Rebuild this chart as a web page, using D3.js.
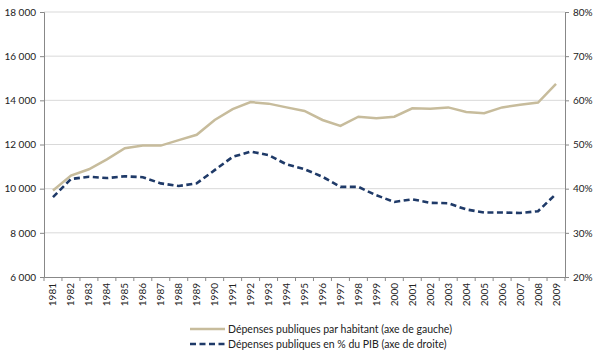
<!DOCTYPE html>
<html><head><meta charset="utf-8">
<script src="https://cdn.jsdelivr.net/npm/d3@7"></script>
<style>
body{margin:0;background:#fff;}
text{font-family:"Lato","Liberation Sans",sans-serif;fill:#222;}
</style></head>
<body><svg id="c" width="602" height="356"></svg>
<script>
const years = ["1981","1982","1983","1984","1985","1986","1987","1988","1989","1990","1991","1992","1993","1994","1995","1996","1997","1998","1999","2000","2001","2002","2003","2004","2005","2006","2007","2008","2009"];
const perCapita = [9920,10590,10880,11330,11830,11950,11950,12200,12440,13110,13600,13920,13850,13680,13520,13110,12840,13260,13190,13260,13640,13620,13680,13470,13420,13680,13800,13900,14740];
const pctGDP = [38.1,42.2,42.7,42.4,42.8,42.6,41.2,40.6,41.2,44.2,47.2,48.4,47.6,45.5,44.4,42.7,40.4,40.4,38.5,37.0,37.6,36.8,36.7,35.3,34.6,34.6,34.5,34.9,38.8];
const leftTicks = [6000,8000,10000,12000,14000,16000,18000];
const rightTicks = [20,30,40,50,60,70,80];
const legendLabels = ["Dépenses publiques par habitant (axe de gauche)","Dépenses publiques en % du PIB (axe de droite)"];

const svg = d3.select("#c");
const L = 44, R = 565, T = 12, B = 277;
const x = d3.scaleBand().domain(years).range([L, R]);
const yL = d3.scaleLinear().domain([6000,18000]).range([B, T]);
const yR = d3.scaleLinear().domain([20,80]).range([B, T]);
const fmt = v => d3.format(",")(v).replace(/,/g, " ");

// gridlines
svg.append("g").selectAll("line").data(leftTicks.slice(1)).join("line")
  .attr("x1", L).attr("x2", R).attr("y1", d => yL(d)).attr("y2", d => yL(d))
  .attr("stroke", "#d9d9d9").attr("stroke-width", 1);

// left axis
const gl = svg.append("g").attr("transform", `translate(${L},0)`)
  .call(d3.axisLeft(yL).tickValues(leftTicks).tickFormat(fmt).tickSize(4).tickPadding(4));
// right axis
const gr = svg.append("g").attr("transform", `translate(${R},0)`)
  .call(d3.axisRight(yR).tickValues(rightTicks).tickFormat(d => d + "%").tickSize(4).tickPadding(4));
// bottom axis
const gb = svg.append("g").attr("transform", `translate(0,${B})`)
  .call(d3.axisBottom(x).tickSize(0).tickPadding(6));
gb.selectAll(".tick text").attr("transform", "rotate(-90)").attr("text-anchor", "end")
  .attr("x", -6).attr("y", 0).attr("dy", "0.35em");
// tick marks at band boundaries
const bounds = years.map(y => x(y)).concat([R]);
svg.append("g").selectAll("line").data(bounds).join("line")
  .attr("x1", d => d).attr("x2", d => d).attr("y1", B).attr("y2", B + 4)
  .attr("stroke", "#888");

[gl, gr, gb].forEach(g => {
  g.selectAll(".domain").attr("stroke", "#888");
  g.selectAll(".tick line").attr("stroke", "#888");
  g.selectAll(".tick text").style("font-size", "10px").attr("fill", "#222");
});

const cx = d => x(d) + x.bandwidth() / 2;
svg.append("path").datum(perCapita)
  .attr("d", d3.line().x((d, i) => cx(years[i])).y(d => yL(d)))
  .attr("fill", "none").attr("stroke", "#c7bc9c").attr("stroke-width", 2.5);
svg.append("path").datum(pctGDP)
  .attr("d", d3.line().x((d, i) => cx(years[i])).y(d => yR(d)))
  .attr("fill", "none").attr("stroke", "#1f3a68").attr("stroke-width", 2.6)
  .attr("stroke-dasharray", "6,3.5");

// legend
const lg = svg.append("g");
const ly = [329, 344];
legendLabels.forEach((lab, i) => {
  lg.append("line").attr("x1", 190).attr("x2", 225).attr("y1", ly[i]).attr("y2", ly[i])
    .attr("stroke", i === 0 ? "#c7bc9c" : "#1f3a68").attr("stroke-width", 2.5)
    .attr("stroke-dasharray", i === 0 ? null : "6,3.5");
  lg.append("text").attr("x", 228).attr("y", ly[i]).attr("dy", "0.35em")
    .style("font-size", "10.5px").text(lab);
});
</script></body></html>
